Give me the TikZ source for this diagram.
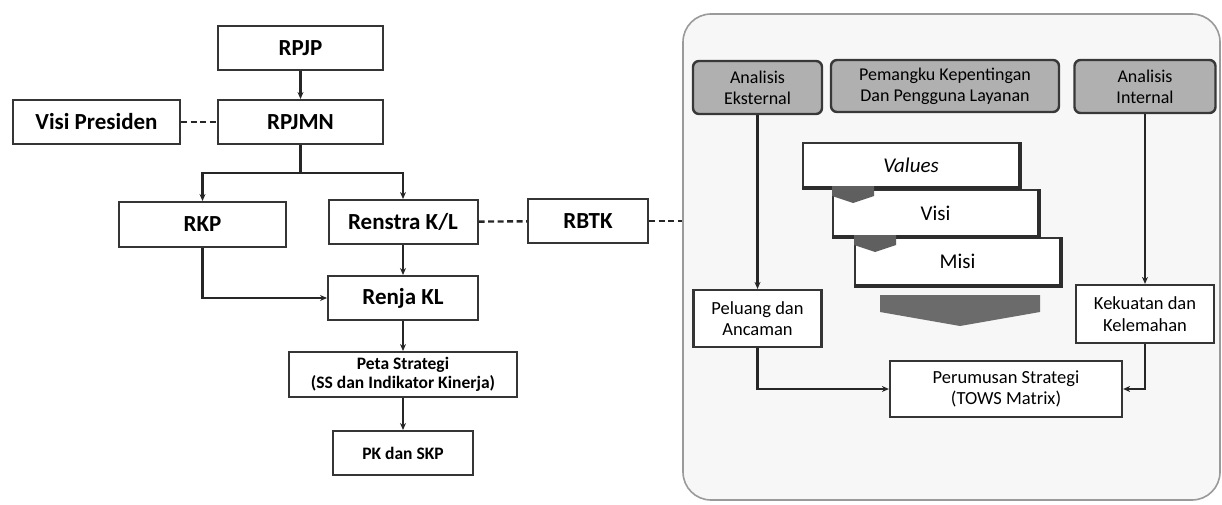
\documentclass[tikz,border=0pt]{standalone}
\usepackage{fontspec}
\setmainfont{Carlito}
\usetikzlibrary{arrows.meta}
\definecolor{linec}{HTML}{262626}
\definecolor{boxline}{HTML}{353535}
\definecolor{gfill}{HTML}{B0B0B0}
\definecolor{gline}{HTML}{383838}
\definecolor{tabfill}{HTML}{5F5F5F}
\definecolor{chevfill}{HTML}{6B6B6B}
\definecolor{panelfill}{HTML}{F7F7F7}
\definecolor{paneldraw}{HTML}{9A9A9A}
\begin{document}
\begin{tikzpicture}[x=1pt,y=-1pt,
  lbox/.style={draw=boxline, line width=2pt, fill=white, inner sep=0pt,
    font=\bfseries\fontsize{23}{26}\selectfont},
  sbox/.style={draw=boxline, line width=2pt, fill=white, inner sep=0pt, align=center,
    font=\bfseries\fontsize{17.5}{19.5}\selectfont},
  arr/.style={-{Stealth[length=7pt,width=6pt]}, line width=2.4pt, draw=linec},
  plain/.style={line width=2.4pt, draw=linec},
  dsh/.style={line width=2.4pt, dash pattern=on 6pt off 3.5pt, draw=linec},
  gbox/.style={draw=gline, line width=2.4pt, fill=gfill, rounded corners=6pt, align=center,
    inner sep=0pt, font=\fontsize{18}{21}\selectfont},
  wbox/.style={draw=boxline, line width=2.2pt, fill=white, align=center, inner sep=0pt,
    font=\fontsize{18.5}{21.5}\selectfont},
  vbox/.style={draw=boxline, line width=1.8pt, fill=white, inner sep=0pt,
    font=\fontsize{21}{24}\selectfont},
  shade/.style={line width=3.2pt, draw=boxline!85!black},
  panelbox/.style={draw=paneldraw, line width=1.6pt, fill=panelfill, rounded corners=28pt}
]
\useasboundingbox (0,0) rectangle (1222,505);

% ---------- left flow ----------
\node[lbox, minimum width=165pt, minimum height=44pt] (rpjp) at (300.5,48) {RPJP};
\node[lbox, minimum width=165pt, minimum height=44pt] (rpjmn) at (300.5,122) {RPJMN};
\node[lbox, minimum width=167pt, minimum height=44pt] (visi) at (96.5,122) {Visi Presiden};
\node[lbox, minimum width=167pt, minimum height=45pt] (rkp) at (202.5,224.5) {RKP};
\node[lbox, minimum width=149pt, minimum height=44pt] (renstra) at (403,222) {Renstra K/L};
\node[lbox, minimum width=120pt, minimum height=44pt] (rbtk) at (588,221) {RBTK};
\node[lbox, minimum width=150pt, minimum height=44pt] (renja) at (403,298) {Renja KL};
\node[sbox, minimum width=228pt, minimum height=45pt] (peta) at (403,374.5) {Peta Strategi\\(SS dan Indikator Kinerja)};
\node[sbox, minimum width=140pt, minimum height=44pt] (pk) at (403,453) {PK dan SKP};

\draw[arr] (rpjp) -- (rpjmn);
\draw[dsh] (visi) -- (rpjmn);
\draw[plain] (rpjmn.south) -- ++(0,28) coordinate (br);
\draw[arr] (br) -| (rkp.north);
\draw[arr] (br) -| (renstra.north);
\draw[arr] (rkp.south) |- (renja.west);
\draw[arr] (renstra) -- (renja);
\draw[arr] (renja) -- (peta);
\draw[arr] (peta) -- (pk);
\draw[dsh] (renstra) -- (rbtk);

% ---------- right panel ----------
\node[panelbox, minimum width=537pt, minimum height=486pt] (panel) at (951.5,257) {};
\draw[dsh] (rbtk.east) -- (rbtk.east -| panel.west);

\node[gbox, minimum width=129pt, minimum height=53pt] (eks) at (757.5,87.5) {Analisis\\Eksternal};
\node[gbox, minimum width=228pt, minimum height=52pt] (pem) at (945,86) {Pemangku Kepentingan\\Dan Pengguna Layanan};
\node[gbox, minimum width=141pt, minimum height=53pt] (int) at (1145,86.5) {Analisis\\Internal};

\node[vbox, minimum width=216pt, minimum height=44pt] (values) at (911,165) {\itshape Values};
\node[vbox, minimum width=205pt, minimum height=46pt] (visiv) at (935.5,213) {Visi};
\node[vbox, minimum width=205pt, minimum height=47pt] (misi) at (957.5,261.5) {Misi};
\draw[shade] (values.south west) -- (values.south east) -- (values.north east);
\draw[shade] (visiv.south west) -- (visiv.south east) -- (visiv.north east);
\draw[shade] (misi.south west) -- (misi.south east) -- (misi.north east);
% tabs
\fill[tabfill] (832,186) -- (874,186) -- (874,196) -- (853,203) -- (832,196) -- cycle;
\fill[tabfill] (854,235) -- (896,235) -- (896,245) -- (875,252) -- (854,245) -- cycle;
% chevron
\fill[chevfill] (880,295) -- (1040,295) -- (1040,312) -- (960,326) -- (880,312) -- cycle;

\node[wbox, minimum width=128pt, minimum height=57pt] (pel) at (757.5,318.5) {Peluang dan\\Ancaman};
\node[wbox, minimum width=138pt, minimum height=58pt] (kek) at (1145,314) {Kekuatan dan\\Kelemahan};
\node[wbox, minimum width=232pt, minimum height=56pt] (per) at (1006,389) {Perumusan Strategi\\(TOWS Matrix)};

\draw[arr] (eks) -- (pel);
\draw[arr] (int) -- (kek);
\draw[arr] (pel.south) |- (per.west);
\draw[arr] (kek.south) |- (per.east);
\end{tikzpicture}
\end{document}
